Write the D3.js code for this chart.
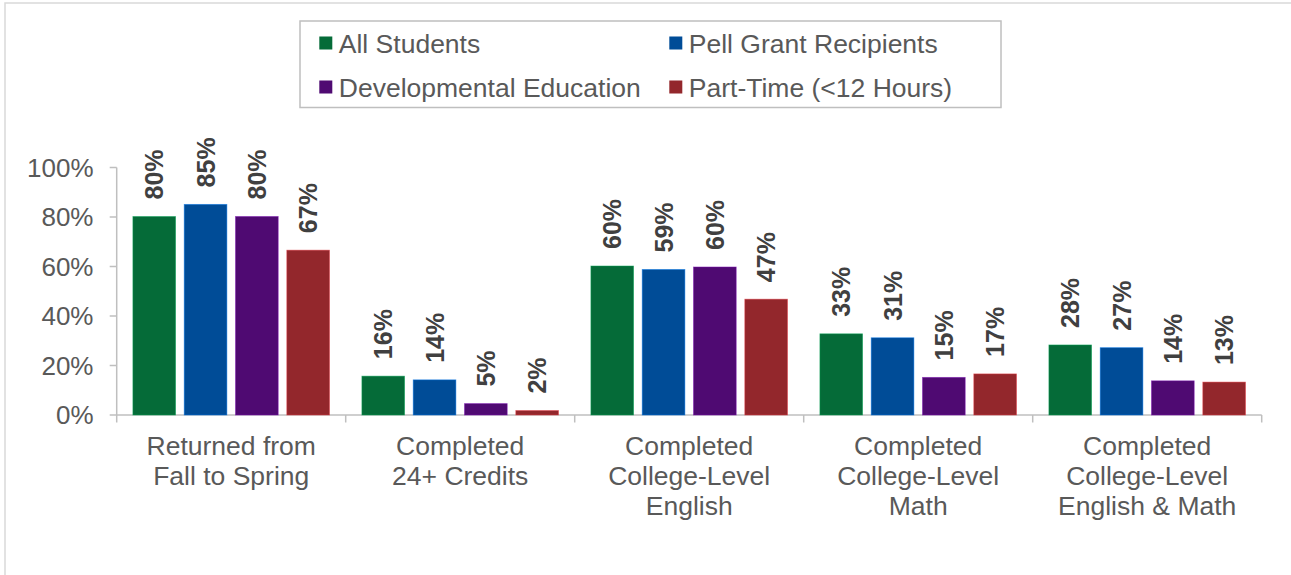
<!DOCTYPE html>
<html>
<head>
<meta charset="utf-8">
<script src="https://cdn.jsdelivr.net/npm/d3@7"></script>
<style>
  body { margin: 0; background: #fff; }
  svg { display: block; font-family: "Liberation Sans", Arial, sans-serif; }
</style>
</head>
<body>
<div id="chart"></div>
<script>
// categories (multi-line labels) and series
const categories = [
    ["Returned from", "Fall to Spring"],
    ["Completed", "24+ Credits"],
    ["Completed", "College-Level", "English"],
    ["Completed", "College-Level", "Math"],
    ["Completed", "College-Level", "English & Math"]
];
const seriesNames = ["All Students", "Pell Grant Recipients", "Developmental Education", "Part-Time (<12 Hours)"];
const seriesColors = ["#056B38", "#004C97", "#4F0A72", "#93272C"];

// values per series, one per category
const allStudents = [0.802, 0.157, 0.602, 0.328, 0.283];
const pellGrant = [0.851, 0.142, 0.588, 0.312, 0.272];
const devEd = [0.802, 0.046, 0.598, 0.152, 0.138];
const partTime = [0.666, 0.018, 0.468, 0.166, 0.133];
const seriesValues = [allStudents, pellGrant, devEd, partTime];

const yTicks = [0, 0.2, 0.4, 0.6, 0.8, 1.0];

const width = 1291;
const height = 575;
const plotLeft = 116.7;
const plotRight = 1261.7;
const plotTop = 167.5;
const plotBottom = 415;
const textColor = "#595959";
const axisColor = "#BFBFBF";

const svg = d3.select("#chart").append("svg")
    .attr("width", width)
    .attr("height", height);

//outer frame (only top and left edges are visible)
svg.append("rect")
    .attr("x", 5).attr("y", 3)
    .attr("width", width + 20).attr("height", height + 20)
    .attr("fill", "none")
    .attr("stroke", "#D9D9D9")
    .attr("stroke-width", 1.5);

//scales
const x0 = d3.scaleBand()
    .domain(d3.range(categories.length))
    .range([plotLeft, plotRight]);

const groupWidth = 196.6;
const x1 = d3.scaleBand()
    .domain(d3.range(seriesNames.length))
    .range([(x0.bandwidth() - groupWidth) / 2, (x0.bandwidth() + groupWidth) / 2])
    .paddingInner(0.168);

const y = d3.scaleLinear().domain([0, 1]).range([plotBottom, plotTop]);

//y axis
const yAxis = svg.append("g");
yAxis.append("line")
    .attr("x1", plotLeft).attr("x2", plotLeft)
    .attr("y1", y(1)).attr("y2", plotBottom)
    .attr("stroke", axisColor).attr("stroke-width", 1.5);
yAxis.selectAll(".ytick")
    .data(yTicks)
    .join("line")
    .attr("x1", plotLeft - 7).attr("x2", plotLeft)
    .attr("y1", d => y(d)).attr("y2", d => y(d))
    .attr("stroke", axisColor).attr("stroke-width", 1.5);
yAxis.selectAll("text")
    .data(yTicks)
    .join("text")
    .attr("x", 93.5)
    .attr("y", d => y(d))
    .attr("dy", "0.36em")
    .attr("text-anchor", "end")
    .attr("font-size", 26)
    .attr("fill", textColor)
    .text(d3.format(".0%"));

//x axis
const xAxis = svg.append("g");
xAxis.append("line")
    .attr("x1", plotLeft).attr("x2", plotRight)
    .attr("y1", plotBottom).attr("y2", plotBottom)
    .attr("stroke", axisColor).attr("stroke-width", 1.5);
xAxis.selectAll(".xtick")
    .data(d3.range(categories.length + 1))
    .join("line")
    .attr("x1", d => plotLeft + d * x0.step())
    .attr("x2", d => plotLeft + d * x0.step())
    .attr("y1", plotBottom).attr("y2", plotBottom + 7.5)
    .attr("stroke", axisColor).attr("stroke-width", 1.5);

xAxis.selectAll("text")
    .data(categories)
    .join("text")
    .attr("x", (d, i) => x0(i) + x0.bandwidth() / 2)
    .attr("y", 455)
    .attr("text-anchor", "middle")
    .attr("font-size", 26.5)
    .attr("fill", textColor)
    .each(function (lines) {
        const t = d3.select(this);
        lines.forEach((line, k) => {
            t.append("tspan")
                .attr("x", t.attr("x"))
                .attr("dy", k === 0 ? 0 : 30)
                .text(line);
        });
    });

//bars
const group = svg.append("g")
    .selectAll("g")
    .data(categories.map((c, i) => i))
    .join("g")
    .attr("transform", i => `translate(${x0(i)},0)`);

group.selectAll("rect")
    .data(i => seriesValues.map((vals, s) => ({ s, v: vals[i] })))
    .join("rect")
    .attr("x", d => x1(d.s))
    .attr("width", x1.bandwidth())
    .attr("y", d => y(d.v))
    .attr("height", d => plotBottom - y(d.v))
    .attr("fill", d => seriesColors[d.s])
    .attr("stroke", d => d3.color(seriesColors[d.s]).brighter(1.2))
    .attr("stroke-width", 0.8)
    .attr("stroke-opacity", 0.6);

//rotated data labels
group.selectAll("text")
    .data(i => seriesValues.map((vals, s) => ({ s, v: vals[i] })))
    .join("text")
    .attr("transform", d => `translate(${x1(d.s) + x1.bandwidth() / 2},${y(d.v) - 17}) rotate(-90)`)
    .attr("dy", "0.36em")
    .attr("font-size", 25)
    .attr("font-weight", "bold")
    .attr("fill", "#404040")
    .text(d => d3.format(".0%")(d.v));

//legend
const legend = svg.append("g");
legend.append("rect")
    .attr("x", 300).attr("y", 21)
    .attr("width", 701).attr("height", 86.5)
    .attr("fill", "#fff")
    .attr("stroke", "#BFBFBF")
    .attr("stroke-width", 1.5);

const legendX = [319.3, 669.3];
const legendY = [43, 87];
const item = legend.selectAll("g")
    .data(seriesNames)
    .join("g")
    .attr("transform", (d, i) => `translate(${legendX[i % 2]},${legendY[Math.floor(i / 2)]})`);
item.append("rect")
    .attr("x", 0).attr("y", -6.5)
    .attr("width", 13).attr("height", 13)
    .attr("fill", (d, i) => seriesColors[i]);
item.append("text")
    .attr("x", 19.5)
    .attr("dy", "0.36em")
    .attr("font-size", 26.5)
    .attr("fill", textColor)
    .text(d => d);
</script>
</body>
</html>
